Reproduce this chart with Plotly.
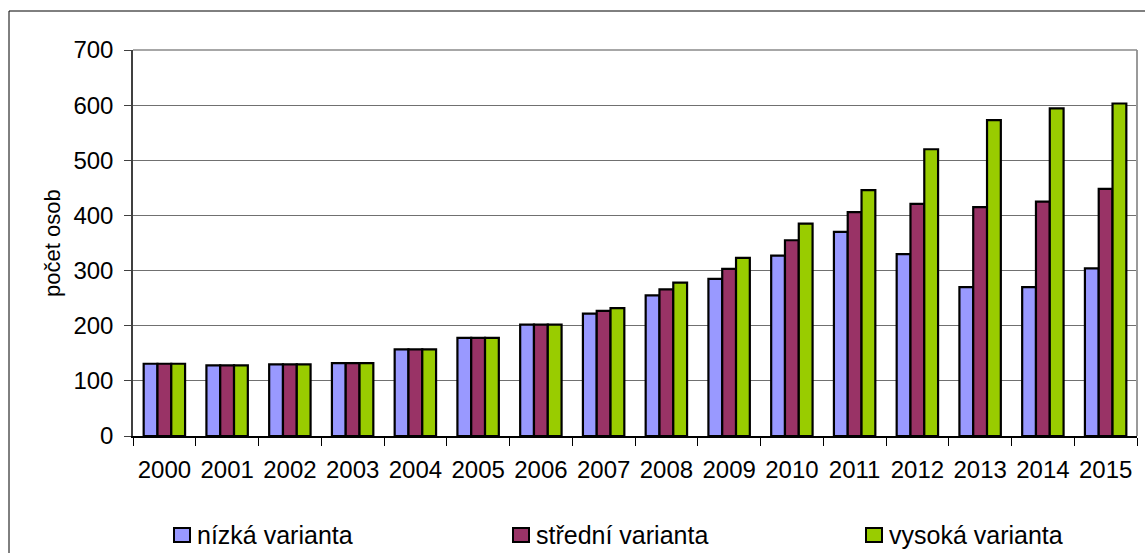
import plotly.graph_objects as go

roky = ["2000", "2001", "2002", "2003", "2004", "2005", "2006", "2007",
        "2008", "2009", "2010", "2011", "2012", "2013", "2014", "2015"]
nizka = [131, 128, 130, 132, 157, 178, 202, 222, 255, 285, 327, 370, 330, 270, 270, 304]
stredni = [131, 128, 130, 132, 157, 178, 202, 227, 266, 303, 355, 406, 421, 415, 425, 448]
vysoka = [131, 128, 130, 132, 157, 178, 202, 232, 278, 323, 385, 446, 520, 573, 594, 603]
nazvy = ["nízká varianta", "střední varianta", "vysoká varianta"]
barvy = ["#9999FF", "#993366", "#99CC00"]

W, H = 1145, 553
L, R, T, B = 133, 1137, 50, 436


def px_x(x):
    return (x - L) / (R - L)


def px_y(y):
    return (B - y) / (B - T)


fig = go.Figure()
for name, vals, col in zip(nazvy, [nizka, stredni, vysoka], barvy):
    fig.add_trace(
        go.Bar(
            x=roky,
            y=vals,
            name=name,
            marker=dict(color=col, line=dict(color="black", width=2.2)),
        )
    )

fig.update_layout(
    width=W,
    height=H,
    margin=dict(l=L, r=W - R, t=T, b=H - B),
    paper_bgcolor="white",
    plot_bgcolor="white",
    barmode="group",
    bargap=0.34,
    bargroupgap=0,
    showlegend=False,
    font=dict(family="Liberation Sans, Arial, sans-serif", color="black", size=24),
)

fig.update_xaxes(
    type="category",
    tickson="boundaries",
    ticks="outside",
    ticklen=8,
    tickwidth=1,
    tickcolor="black",
    showline=True,
    linecolor="black",
    linewidth=2,
    showgrid=False,
    tickfont=dict(size=24),
    ticklabelstandoff=11,
)
fig.update_yaxes(
    range=[0, 700],
    dtick=100,
    ticks="outside",
    ticklen=7,
    tickcolor="#404040",
    showline=True,
    linecolor="#404040",
    linewidth=1.5,
    showgrid=True,
    gridcolor="#707070",
    gridwidth=1,
    zeroline=False,
    tickfont=dict(size=24),
    ticklabelstandoff=6,
)

# okraj grafu (oříznutý vpravo a dole) a okraj vykreslovací plochy
fig.add_shape(type="rect", xref="paper", yref="paper",
              x0=px_x(9), x1=px_x(1170), y0=px_y(11), y1=px_y(600),
              line=dict(color="black", width=1))
fig.add_shape(type="line", xref="paper", yref="paper",
              x0=1, x1=1, y0=0, y1=1, line=dict(color="#9a9a9a", width=2))
fig.add_shape(type="line", xref="paper", yref="paper",
              x0=0, x1=1, y0=1, y1=1, line=dict(color="#8a8a8a", width=1.5))

fig.add_annotation(text="počet osob", xref="paper", yref="paper",
                   x=px_x(52), y=0.5, textangle=-90, showarrow=False,
                   xanchor="center", yanchor="middle", font=dict(size=22))

# legenda
box_x = [174, 513, 866]
for name, col, bx in zip(nazvy, barvy, box_x):
    fig.add_shape(type="rect", xref="paper", yref="paper",
                  x0=px_x(bx), x1=px_x(bx + 16), y0=px_y(528), y1=px_y(542),
                  fillcolor=col, line=dict(color="black", width=2))
    fig.add_annotation(text=name, xref="paper", yref="paper",
                       x=px_x(bx + 21), y=px_y(535), showarrow=False,
                       xanchor="left", yanchor="middle", font=dict(size=25))

fig.write_html("out.html", config={"displayModeBar": False},
               post_script="document.body.style.margin='0';")
